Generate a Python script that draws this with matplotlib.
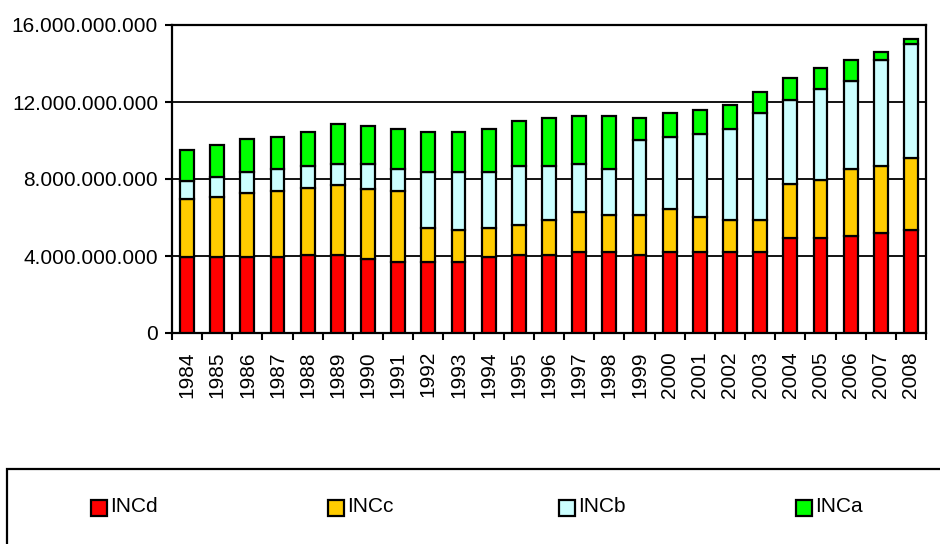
import numpy as np
import matplotlib
matplotlib.use("Agg")
import matplotlib.pyplot as plt
from matplotlib.patches import Rectangle
from matplotlib.ticker import FuncFormatter

plt.rcParams['font.family'] = ['Liberation Sans', 'DejaVu Sans']

years = [str(y) for y in range(1984, 2009)]
# segment values, billions
INCd = [3.94, 3.94, 3.94, 3.94, 4.07, 4.07, 3.82, 3.70, 3.70, 3.70, 3.94, 4.07, 4.07,
        4.20, 4.20, 4.07, 4.20, 4.20, 4.20, 4.20, 4.91, 4.91, 5.05, 5.17, 5.36]
INCc = [3.03, 3.15, 3.34, 3.46, 3.46, 3.61, 3.67, 3.69, 1.77, 1.66, 1.53, 1.52, 1.81,
        2.10, 1.94, 2.07, 2.24, 1.82, 1.68, 1.68, 2.81, 3.05, 3.46, 3.48, 3.71]
INCb = [0.95, 1.01, 1.09, 1.13, 1.17, 1.11, 1.30, 1.12, 2.90, 3.01, 2.90, 3.08, 2.79,
        2.49, 2.39, 3.91, 3.75, 4.31, 4.74, 5.54, 4.39, 4.72, 4.57, 5.55, 5.93]
INCa = [1.58, 1.67, 1.70, 1.66, 1.75, 2.07, 1.95, 2.11, 2.08, 2.08, 2.25, 2.35, 2.49,
        2.49, 2.75, 1.11, 1.23, 1.24, 1.20, 1.12, 1.12, 1.09, 1.11, 0.42, 0.28]

series = [("INCd", INCd, "#FF0000"), ("INCc", INCc, "#FFCC00"),
          ("INCb", INCb, "#CCFFFF"), ("INCa", INCa, "#00FF00")]

fig = plt.figure(figsize=(9.4, 5.44), dpi=100)
ax = fig.add_axes([172/940, 1-333/544, (926-172)/940, (333-25)/544])

x = np.arange(len(years))
bottom = np.zeros(len(years))
for name, vals, col in series:
    v = np.array(vals) * 1e9
    ax.bar(x, v, 0.46, bottom=bottom, color=col, edgecolor='black', linewidth=1.6,
           zorder=3, label=name)
    bottom += v

ax.set_xlim(-0.5, len(years) - 0.5)
ax.set_ylim(0, 16e9)
ax.set_yticks(np.arange(0, 16.1e9, 4e9))
ax.yaxis.set_major_formatter(FuncFormatter(lambda v, p: f"{int(round(v)):,}".replace(",", ".")))
ax.grid(axis='y', color='black', linewidth=1.3, zorder=0)

ax.set_xticks(x)
ax.set_xticklabels(years, rotation=90)
ax.set_xticks(np.arange(-0.5, len(years), 1), minor=True)
ax.tick_params(axis='x', which='major', length=0, pad=13, labelsize=15)
ax.tick_params(axis='x', which='minor', length=5, width=1.5)
ax.tick_params(axis='y', length=5, width=1.5, pad=5, labelsize=15)
for s in ax.spines.values():
    s.set_linewidth(1.6)

# legend frame runs off the page at right and bottom
fig.patches.append(Rectangle((7/940, -0.2), 1.1, 0.2 + (544-469)/544, transform=fig.transFigure,
                             fill=False, edgecolor='black', linewidth=1.6))
lx = [91, 328, 559, 796]
for (name, vals, col), px in zip(series, lx):
    fig.patches.append(Rectangle((px/940, 1-516/544), 16/940, 16/544, transform=fig.transFigure,
                                 facecolor=col, edgecolor='black', linewidth=1.6))
    fig.text((px+19)/940, 1-507/544, name, fontsize=15, va='center', ha='left')

fig.savefig("out.png", dpi=100)
